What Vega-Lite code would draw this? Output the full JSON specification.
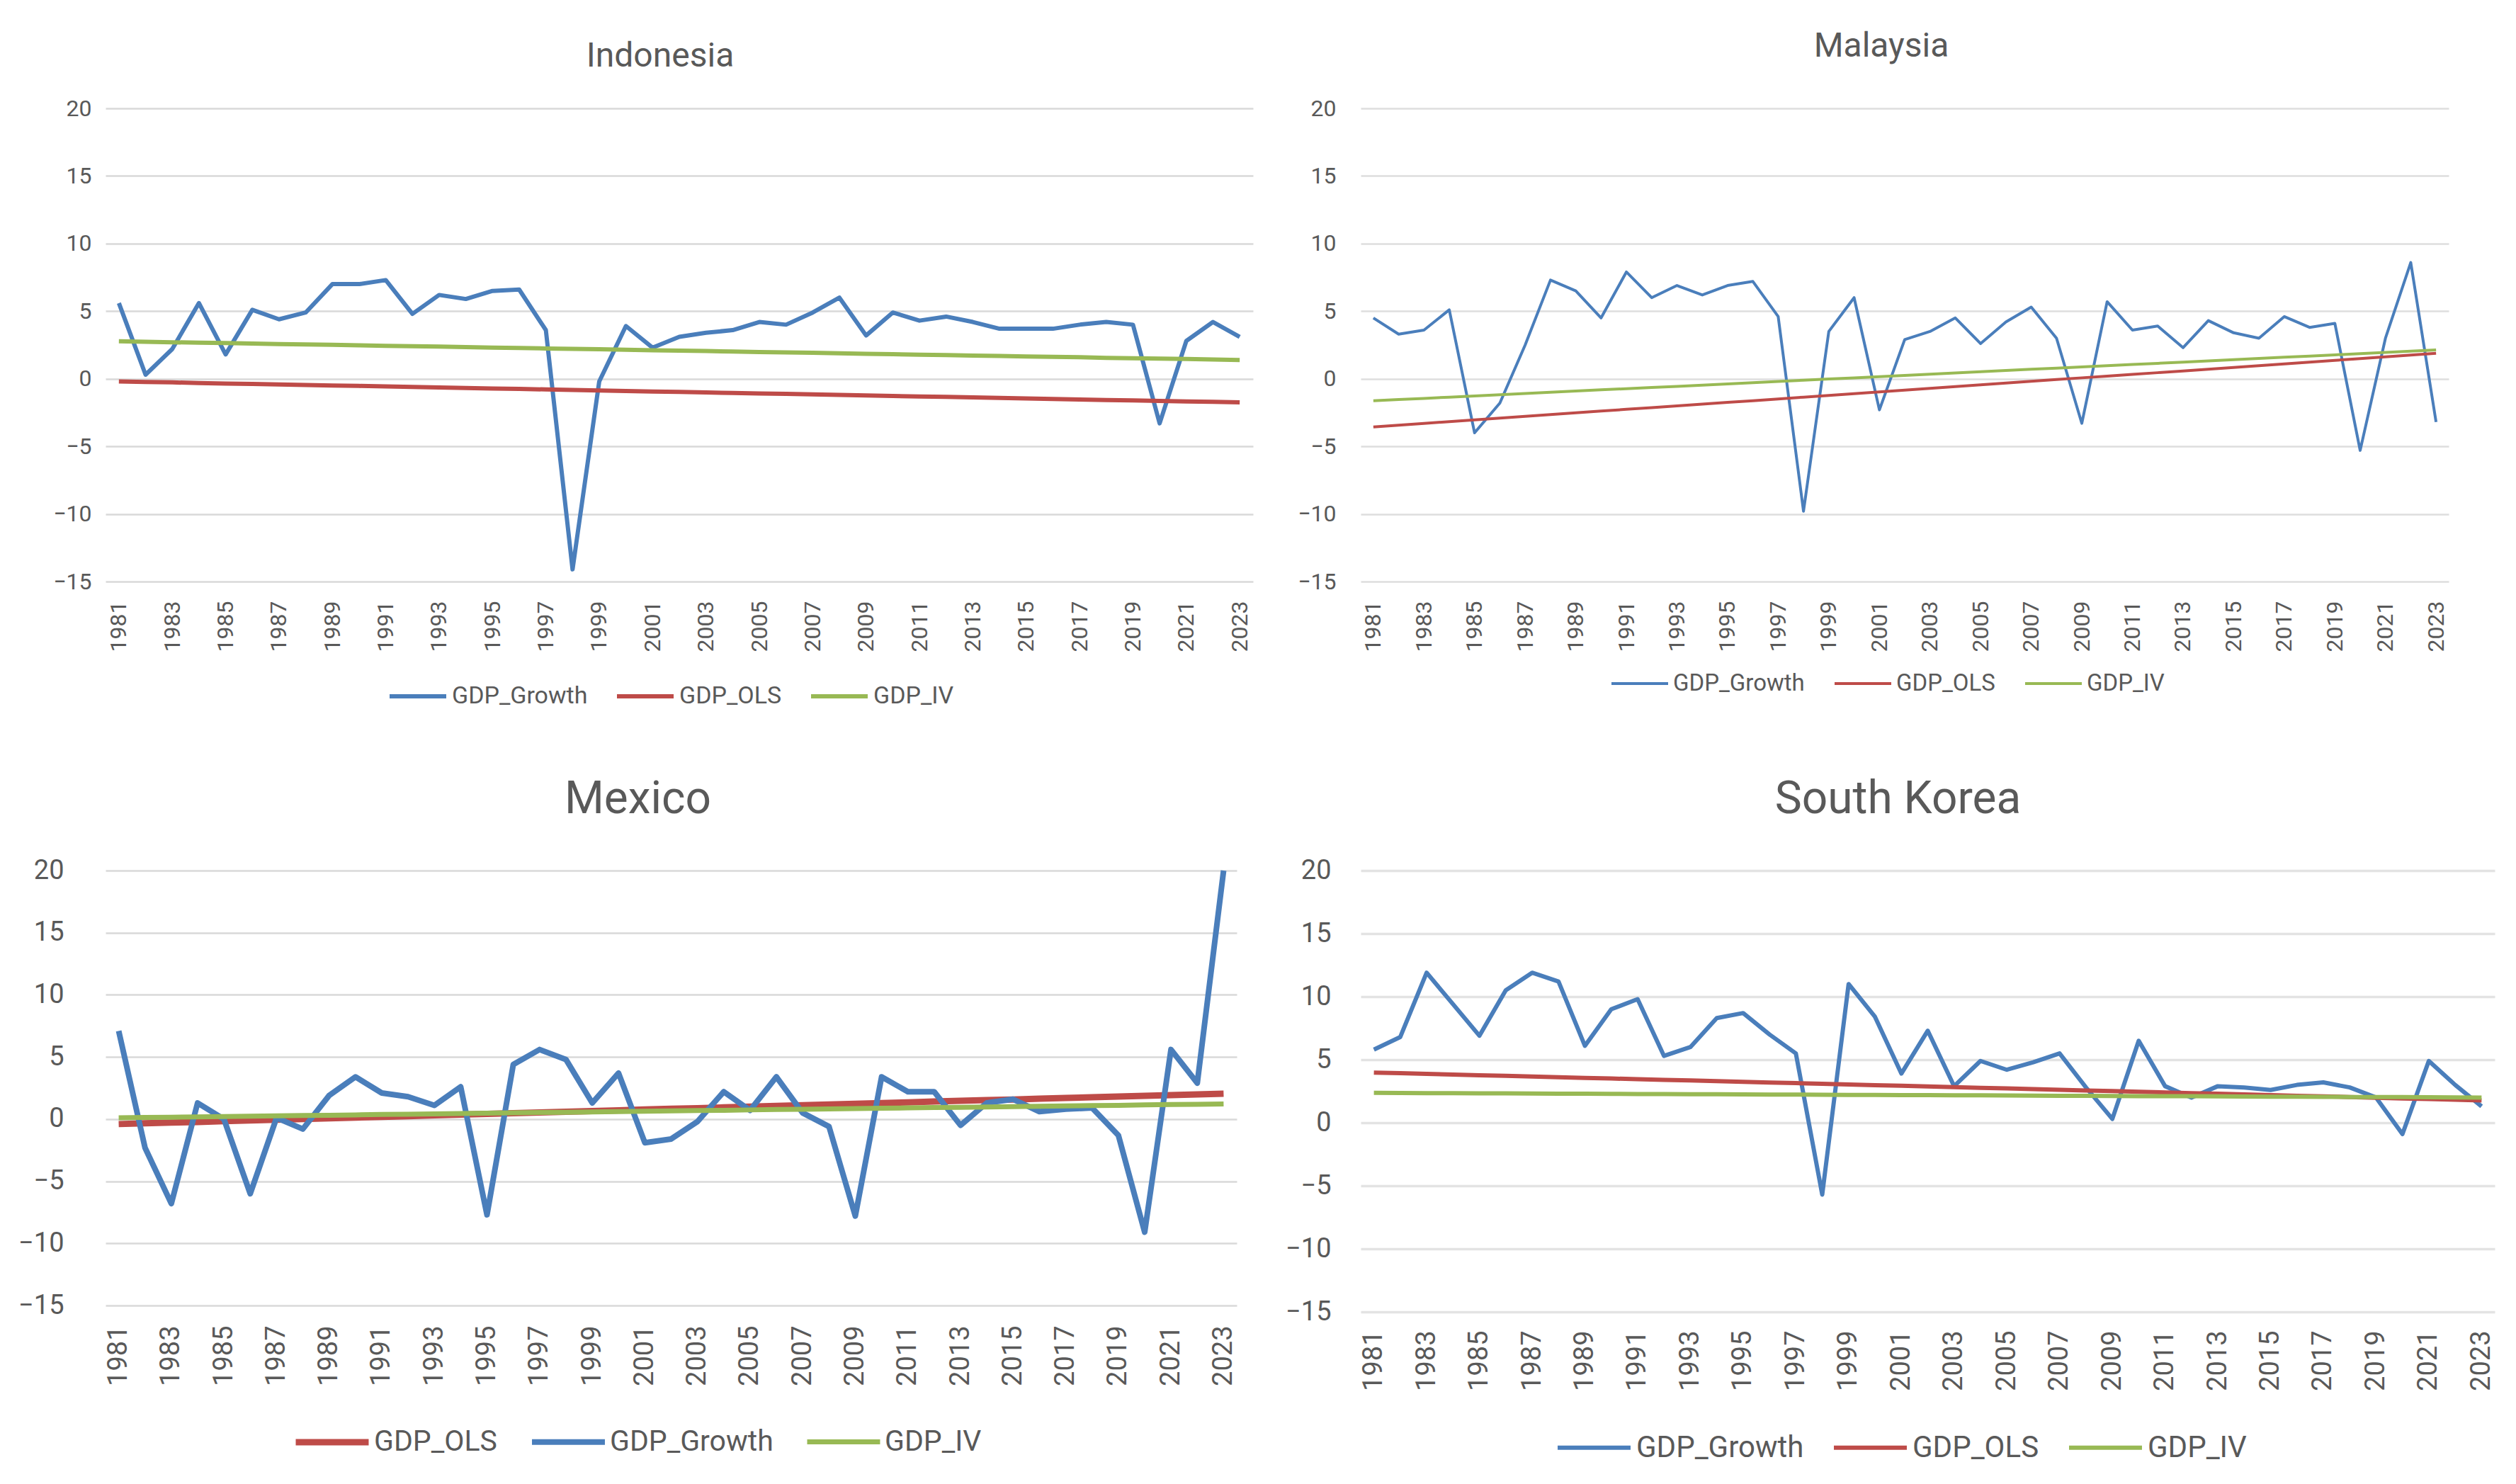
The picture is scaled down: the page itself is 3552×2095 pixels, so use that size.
{
  "$schema": "https://vega.github.io/schema/vega-lite/v6.json",
  "background": "white",
  "autosize": {"type": "pad"},
  "padding": {"left": 25, "top": 42, "right": 0, "bottom": 15},
  "columns": 2,
  "spacing": {"row": 408, "column": 152},
  "bounds": "flush",
  "align": "each",
  "resolve": {"scale": {"x": "independent", "y": "independent", "color": "independent", "strokeWidth": "independent"}, "legend": {"color": "independent"}},
  "datasets": {
    "gdp": [
      {"c":"Indonesia","year":1981,"GDP_Growth":5.6,"GDP_OLS":-0.20,"GDP_IV":2.77},
      {"c":"Indonesia","year":1982,"GDP_Growth":0.3,"GDP_OLS":-0.24,"GDP_IV":2.74},
      {"c":"Indonesia","year":1983,"GDP_Growth":2.2,"GDP_OLS":-0.27,"GDP_IV":2.70},
      {"c":"Indonesia","year":1984,"GDP_Growth":5.6,"GDP_OLS":-0.31,"GDP_IV":2.67},
      {"c":"Indonesia","year":1985,"GDP_Growth":1.8,"GDP_OLS":-0.35,"GDP_IV":2.64},
      {"c":"Indonesia","year":1986,"GDP_Growth":5.1,"GDP_OLS":-0.38,"GDP_IV":2.61},
      {"c":"Indonesia","year":1987,"GDP_Growth":4.4,"GDP_OLS":-0.42,"GDP_IV":2.57},
      {"c":"Indonesia","year":1988,"GDP_Growth":4.9,"GDP_OLS":-0.46,"GDP_IV":2.54},
      {"c":"Indonesia","year":1989,"GDP_Growth":7.0,"GDP_OLS":-0.50,"GDP_IV":2.51},
      {"c":"Indonesia","year":1990,"GDP_Growth":7.0,"GDP_OLS":-0.53,"GDP_IV":2.47},
      {"c":"Indonesia","year":1991,"GDP_Growth":7.3,"GDP_OLS":-0.57,"GDP_IV":2.44},
      {"c":"Indonesia","year":1992,"GDP_Growth":4.8,"GDP_OLS":-0.61,"GDP_IV":2.41},
      {"c":"Indonesia","year":1993,"GDP_Growth":6.2,"GDP_OLS":-0.64,"GDP_IV":2.38},
      {"c":"Indonesia","year":1994,"GDP_Growth":5.9,"GDP_OLS":-0.68,"GDP_IV":2.34},
      {"c":"Indonesia","year":1995,"GDP_Growth":6.5,"GDP_OLS":-0.72,"GDP_IV":2.31},
      {"c":"Indonesia","year":1996,"GDP_Growth":6.6,"GDP_OLS":-0.75,"GDP_IV":2.28},
      {"c":"Indonesia","year":1997,"GDP_Growth":3.6,"GDP_OLS":-0.79,"GDP_IV":2.24},
      {"c":"Indonesia","year":1998,"GDP_Growth":-14.1,"GDP_OLS":-0.83,"GDP_IV":2.21},
      {"c":"Indonesia","year":1999,"GDP_Growth":-0.2,"GDP_OLS":-0.86,"GDP_IV":2.18},
      {"c":"Indonesia","year":2000,"GDP_Growth":3.9,"GDP_OLS":-0.90,"GDP_IV":2.15},
      {"c":"Indonesia","year":2001,"GDP_Growth":2.3,"GDP_OLS":-0.94,"GDP_IV":2.11},
      {"c":"Indonesia","year":2002,"GDP_Growth":3.1,"GDP_OLS":-0.97,"GDP_IV":2.08},
      {"c":"Indonesia","year":2003,"GDP_Growth":3.4,"GDP_OLS":-1.01,"GDP_IV":2.05},
      {"c":"Indonesia","year":2004,"GDP_Growth":3.6,"GDP_OLS":-1.05,"GDP_IV":2.01},
      {"c":"Indonesia","year":2005,"GDP_Growth":4.2,"GDP_OLS":-1.09,"GDP_IV":1.98},
      {"c":"Indonesia","year":2006,"GDP_Growth":4.0,"GDP_OLS":-1.12,"GDP_IV":1.95},
      {"c":"Indonesia","year":2007,"GDP_Growth":4.9,"GDP_OLS":-1.16,"GDP_IV":1.92},
      {"c":"Indonesia","year":2008,"GDP_Growth":6.0,"GDP_OLS":-1.20,"GDP_IV":1.88},
      {"c":"Indonesia","year":2009,"GDP_Growth":3.2,"GDP_OLS":-1.23,"GDP_IV":1.85},
      {"c":"Indonesia","year":2010,"GDP_Growth":4.9,"GDP_OLS":-1.27,"GDP_IV":1.82},
      {"c":"Indonesia","year":2011,"GDP_Growth":4.3,"GDP_OLS":-1.31,"GDP_IV":1.78},
      {"c":"Indonesia","year":2012,"GDP_Growth":4.6,"GDP_OLS":-1.34,"GDP_IV":1.75},
      {"c":"Indonesia","year":2013,"GDP_Growth":4.2,"GDP_OLS":-1.38,"GDP_IV":1.72},
      {"c":"Indonesia","year":2014,"GDP_Growth":3.7,"GDP_OLS":-1.42,"GDP_IV":1.69},
      {"c":"Indonesia","year":2015,"GDP_Growth":3.7,"GDP_OLS":-1.45,"GDP_IV":1.65},
      {"c":"Indonesia","year":2016,"GDP_Growth":3.7,"GDP_OLS":-1.49,"GDP_IV":1.62},
      {"c":"Indonesia","year":2017,"GDP_Growth":4.0,"GDP_OLS":-1.53,"GDP_IV":1.59},
      {"c":"Indonesia","year":2018,"GDP_Growth":4.2,"GDP_OLS":-1.57,"GDP_IV":1.55},
      {"c":"Indonesia","year":2019,"GDP_Growth":4.0,"GDP_OLS":-1.60,"GDP_IV":1.52},
      {"c":"Indonesia","year":2020,"GDP_Growth":-3.3,"GDP_OLS":-1.64,"GDP_IV":1.49},
      {"c":"Indonesia","year":2021,"GDP_Growth":2.8,"GDP_OLS":-1.68,"GDP_IV":1.46},
      {"c":"Indonesia","year":2022,"GDP_Growth":4.2,"GDP_OLS":-1.71,"GDP_IV":1.42},
      {"c":"Indonesia","year":2023,"GDP_Growth":3.1,"GDP_OLS":-1.75,"GDP_IV":1.39},
      {"c":"Malaysia","year":1981,"GDP_Growth":4.5,"GDP_OLS":-3.56,"GDP_IV":-1.63},
      {"c":"Malaysia","year":1982,"GDP_Growth":3.3,"GDP_OLS":-3.43,"GDP_IV":-1.54},
      {"c":"Malaysia","year":1983,"GDP_Growth":3.6,"GDP_OLS":-3.30,"GDP_IV":-1.45},
      {"c":"Malaysia","year":1984,"GDP_Growth":5.1,"GDP_OLS":-3.17,"GDP_IV":-1.36},
      {"c":"Malaysia","year":1985,"GDP_Growth":-4.0,"GDP_OLS":-3.04,"GDP_IV":-1.27},
      {"c":"Malaysia","year":1986,"GDP_Growth":-1.8,"GDP_OLS":-2.91,"GDP_IV":-1.18},
      {"c":"Malaysia","year":1987,"GDP_Growth":2.5,"GDP_OLS":-2.78,"GDP_IV":-1.09},
      {"c":"Malaysia","year":1988,"GDP_Growth":7.3,"GDP_OLS":-2.65,"GDP_IV":-1.00},
      {"c":"Malaysia","year":1989,"GDP_Growth":6.5,"GDP_OLS":-2.52,"GDP_IV":-0.91},
      {"c":"Malaysia","year":1990,"GDP_Growth":4.5,"GDP_OLS":-2.39,"GDP_IV":-0.82},
      {"c":"Malaysia","year":1991,"GDP_Growth":7.9,"GDP_OLS":-2.26,"GDP_IV":-0.73},
      {"c":"Malaysia","year":1992,"GDP_Growth":6.0,"GDP_OLS":-2.14,"GDP_IV":-0.65},
      {"c":"Malaysia","year":1993,"GDP_Growth":6.9,"GDP_OLS":-2.01,"GDP_IV":-0.56},
      {"c":"Malaysia","year":1994,"GDP_Growth":6.2,"GDP_OLS":-1.88,"GDP_IV":-0.47},
      {"c":"Malaysia","year":1995,"GDP_Growth":6.9,"GDP_OLS":-1.75,"GDP_IV":-0.38},
      {"c":"Malaysia","year":1996,"GDP_Growth":7.2,"GDP_OLS":-1.62,"GDP_IV":-0.29},
      {"c":"Malaysia","year":1997,"GDP_Growth":4.6,"GDP_OLS":-1.49,"GDP_IV":-0.20},
      {"c":"Malaysia","year":1998,"GDP_Growth":-9.8,"GDP_OLS":-1.36,"GDP_IV":-0.11},
      {"c":"Malaysia","year":1999,"GDP_Growth":3.5,"GDP_OLS":-1.23,"GDP_IV":-0.02},
      {"c":"Malaysia","year":2000,"GDP_Growth":6.0,"GDP_OLS":-1.10,"GDP_IV":0.07},
      {"c":"Malaysia","year":2001,"GDP_Growth":-2.3,"GDP_OLS":-0.97,"GDP_IV":0.16},
      {"c":"Malaysia","year":2002,"GDP_Growth":2.9,"GDP_OLS":-0.84,"GDP_IV":0.25},
      {"c":"Malaysia","year":2003,"GDP_Growth":3.5,"GDP_OLS":-0.71,"GDP_IV":0.34},
      {"c":"Malaysia","year":2004,"GDP_Growth":4.5,"GDP_OLS":-0.58,"GDP_IV":0.43},
      {"c":"Malaysia","year":2005,"GDP_Growth":2.6,"GDP_OLS":-0.45,"GDP_IV":0.52},
      {"c":"Malaysia","year":2006,"GDP_Growth":4.2,"GDP_OLS":-0.32,"GDP_IV":0.61},
      {"c":"Malaysia","year":2007,"GDP_Growth":5.3,"GDP_OLS":-0.19,"GDP_IV":0.70},
      {"c":"Malaysia","year":2008,"GDP_Growth":3.0,"GDP_OLS":-0.06,"GDP_IV":0.79},
      {"c":"Malaysia","year":2009,"GDP_Growth":-3.3,"GDP_OLS":0.07,"GDP_IV":0.88},
      {"c":"Malaysia","year":2010,"GDP_Growth":5.7,"GDP_OLS":0.20,"GDP_IV":0.97},
      {"c":"Malaysia","year":2011,"GDP_Growth":3.6,"GDP_OLS":0.33,"GDP_IV":1.06},
      {"c":"Malaysia","year":2012,"GDP_Growth":3.9,"GDP_OLS":0.45,"GDP_IV":1.14},
      {"c":"Malaysia","year":2013,"GDP_Growth":2.3,"GDP_OLS":0.58,"GDP_IV":1.23},
      {"c":"Malaysia","year":2014,"GDP_Growth":4.3,"GDP_OLS":0.71,"GDP_IV":1.32},
      {"c":"Malaysia","year":2015,"GDP_Growth":3.4,"GDP_OLS":0.84,"GDP_IV":1.41},
      {"c":"Malaysia","year":2016,"GDP_Growth":3.0,"GDP_OLS":0.97,"GDP_IV":1.50},
      {"c":"Malaysia","year":2017,"GDP_Growth":4.6,"GDP_OLS":1.10,"GDP_IV":1.59},
      {"c":"Malaysia","year":2018,"GDP_Growth":3.8,"GDP_OLS":1.23,"GDP_IV":1.68},
      {"c":"Malaysia","year":2019,"GDP_Growth":4.1,"GDP_OLS":1.36,"GDP_IV":1.77},
      {"c":"Malaysia","year":2020,"GDP_Growth":-5.3,"GDP_OLS":1.49,"GDP_IV":1.86},
      {"c":"Malaysia","year":2021,"GDP_Growth":3.0,"GDP_OLS":1.62,"GDP_IV":1.95},
      {"c":"Malaysia","year":2022,"GDP_Growth":8.6,"GDP_OLS":1.75,"GDP_IV":2.04},
      {"c":"Malaysia","year":2023,"GDP_Growth":-3.2,"GDP_OLS":1.88,"GDP_IV":2.13},
      {"c":"Mexico","year":1981,"GDP_Growth":7.1,"GDP_OLS":-0.40,"GDP_IV":0.10},
      {"c":"Mexico","year":1982,"GDP_Growth":-2.3,"GDP_OLS":-0.34,"GDP_IV":0.13},
      {"c":"Mexico","year":1983,"GDP_Growth":-6.8,"GDP_OLS":-0.28,"GDP_IV":0.15},
      {"c":"Mexico","year":1984,"GDP_Growth":1.3,"GDP_OLS":-0.23,"GDP_IV":0.18},
      {"c":"Mexico","year":1985,"GDP_Growth":0.0,"GDP_OLS":-0.17,"GDP_IV":0.21},
      {"c":"Mexico","year":1986,"GDP_Growth":-6.0,"GDP_OLS":-0.11,"GDP_IV":0.23},
      {"c":"Mexico","year":1987,"GDP_Growth":0.1,"GDP_OLS":-0.05,"GDP_IV":0.26},
      {"c":"Mexico","year":1988,"GDP_Growth":-0.8,"GDP_OLS":0.01,"GDP_IV":0.29},
      {"c":"Mexico","year":1989,"GDP_Growth":1.9,"GDP_OLS":0.07,"GDP_IV":0.31},
      {"c":"Mexico","year":1990,"GDP_Growth":3.4,"GDP_OLS":0.12,"GDP_IV":0.34},
      {"c":"Mexico","year":1991,"GDP_Growth":2.1,"GDP_OLS":0.18,"GDP_IV":0.37},
      {"c":"Mexico","year":1992,"GDP_Growth":1.8,"GDP_OLS":0.24,"GDP_IV":0.39},
      {"c":"Mexico","year":1993,"GDP_Growth":1.1,"GDP_OLS":0.30,"GDP_IV":0.42},
      {"c":"Mexico","year":1994,"GDP_Growth":2.6,"GDP_OLS":0.36,"GDP_IV":0.45},
      {"c":"Mexico","year":1995,"GDP_Growth":-7.7,"GDP_OLS":0.42,"GDP_IV":0.47},
      {"c":"Mexico","year":1996,"GDP_Growth":4.4,"GDP_OLS":0.48,"GDP_IV":0.50},
      {"c":"Mexico","year":1997,"GDP_Growth":5.6,"GDP_OLS":0.53,"GDP_IV":0.53},
      {"c":"Mexico","year":1998,"GDP_Growth":4.8,"GDP_OLS":0.59,"GDP_IV":0.55},
      {"c":"Mexico","year":1999,"GDP_Growth":1.3,"GDP_OLS":0.65,"GDP_IV":0.58},
      {"c":"Mexico","year":2000,"GDP_Growth":3.7,"GDP_OLS":0.71,"GDP_IV":0.61},
      {"c":"Mexico","year":2001,"GDP_Growth":-1.9,"GDP_OLS":0.77,"GDP_IV":0.63},
      {"c":"Mexico","year":2002,"GDP_Growth":-1.6,"GDP_OLS":0.83,"GDP_IV":0.66},
      {"c":"Mexico","year":2003,"GDP_Growth":-0.2,"GDP_OLS":0.88,"GDP_IV":0.69},
      {"c":"Mexico","year":2004,"GDP_Growth":2.2,"GDP_OLS":0.94,"GDP_IV":0.71},
      {"c":"Mexico","year":2005,"GDP_Growth":0.7,"GDP_OLS":1.00,"GDP_IV":0.74},
      {"c":"Mexico","year":2006,"GDP_Growth":3.4,"GDP_OLS":1.06,"GDP_IV":0.77},
      {"c":"Mexico","year":2007,"GDP_Growth":0.5,"GDP_OLS":1.12,"GDP_IV":0.79},
      {"c":"Mexico","year":2008,"GDP_Growth":-0.6,"GDP_OLS":1.18,"GDP_IV":0.82},
      {"c":"Mexico","year":2009,"GDP_Growth":-7.8,"GDP_OLS":1.23,"GDP_IV":0.85},
      {"c":"Mexico","year":2010,"GDP_Growth":3.4,"GDP_OLS":1.29,"GDP_IV":0.87},
      {"c":"Mexico","year":2011,"GDP_Growth":2.2,"GDP_OLS":1.35,"GDP_IV":0.90},
      {"c":"Mexico","year":2012,"GDP_Growth":2.2,"GDP_OLS":1.41,"GDP_IV":0.93},
      {"c":"Mexico","year":2013,"GDP_Growth":-0.5,"GDP_OLS":1.47,"GDP_IV":0.95},
      {"c":"Mexico","year":2014,"GDP_Growth":1.3,"GDP_OLS":1.53,"GDP_IV":0.98},
      {"c":"Mexico","year":2015,"GDP_Growth":1.6,"GDP_OLS":1.58,"GDP_IV":1.01},
      {"c":"Mexico","year":2016,"GDP_Growth":0.6,"GDP_OLS":1.64,"GDP_IV":1.03},
      {"c":"Mexico","year":2017,"GDP_Growth":0.8,"GDP_OLS":1.70,"GDP_IV":1.06},
      {"c":"Mexico","year":2018,"GDP_Growth":0.9,"GDP_OLS":1.76,"GDP_IV":1.09},
      {"c":"Mexico","year":2019,"GDP_Growth":-1.3,"GDP_OLS":1.82,"GDP_IV":1.11},
      {"c":"Mexico","year":2020,"GDP_Growth":-9.1,"GDP_OLS":1.88,"GDP_IV":1.14},
      {"c":"Mexico","year":2021,"GDP_Growth":5.6,"GDP_OLS":1.93,"GDP_IV":1.17},
      {"c":"Mexico","year":2022,"GDP_Growth":2.9,"GDP_OLS":1.99,"GDP_IV":1.19},
      {"c":"Mexico","year":2023,"GDP_Growth":20.0,"GDP_OLS":2.05,"GDP_IV":1.22},
      {"c":"South Korea","year":1981,"GDP_Growth":5.8,"GDP_OLS":3.98,"GDP_IV":2.37},
      {"c":"South Korea","year":1982,"GDP_Growth":6.8,"GDP_OLS":3.93,"GDP_IV":2.36},
      {"c":"South Korea","year":1983,"GDP_Growth":11.9,"GDP_OLS":3.87,"GDP_IV":2.35},
      {"c":"South Korea","year":1984,"GDP_Growth":9.4,"GDP_OLS":3.82,"GDP_IV":2.34},
      {"c":"South Korea","year":1985,"GDP_Growth":6.9,"GDP_OLS":3.77,"GDP_IV":2.33},
      {"c":"South Korea","year":1986,"GDP_Growth":10.5,"GDP_OLS":3.72,"GDP_IV":2.33},
      {"c":"South Korea","year":1987,"GDP_Growth":11.9,"GDP_OLS":3.66,"GDP_IV":2.32},
      {"c":"South Korea","year":1988,"GDP_Growth":11.2,"GDP_OLS":3.61,"GDP_IV":2.31},
      {"c":"South Korea","year":1989,"GDP_Growth":6.1,"GDP_OLS":3.56,"GDP_IV":2.30},
      {"c":"South Korea","year":1990,"GDP_Growth":9.0,"GDP_OLS":3.51,"GDP_IV":2.29},
      {"c":"South Korea","year":1991,"GDP_Growth":9.8,"GDP_OLS":3.45,"GDP_IV":2.28},
      {"c":"South Korea","year":1992,"GDP_Growth":5.3,"GDP_OLS":3.40,"GDP_IV":2.27},
      {"c":"South Korea","year":1993,"GDP_Growth":6.0,"GDP_OLS":3.35,"GDP_IV":2.26},
      {"c":"South Korea","year":1994,"GDP_Growth":8.3,"GDP_OLS":3.30,"GDP_IV":2.26},
      {"c":"South Korea","year":1995,"GDP_Growth":8.7,"GDP_OLS":3.24,"GDP_IV":2.25},
      {"c":"South Korea","year":1996,"GDP_Growth":7.0,"GDP_OLS":3.19,"GDP_IV":2.24},
      {"c":"South Korea","year":1997,"GDP_Growth":5.5,"GDP_OLS":3.14,"GDP_IV":2.23},
      {"c":"South Korea","year":1998,"GDP_Growth":-5.7,"GDP_OLS":3.09,"GDP_IV":2.22},
      {"c":"South Korea","year":1999,"GDP_Growth":11.0,"GDP_OLS":3.03,"GDP_IV":2.21},
      {"c":"South Korea","year":2000,"GDP_Growth":8.4,"GDP_OLS":2.98,"GDP_IV":2.20},
      {"c":"South Korea","year":2001,"GDP_Growth":3.9,"GDP_OLS":2.93,"GDP_IV":2.19},
      {"c":"South Korea","year":2002,"GDP_Growth":7.3,"GDP_OLS":2.88,"GDP_IV":2.19},
      {"c":"South Korea","year":2003,"GDP_Growth":2.9,"GDP_OLS":2.82,"GDP_IV":2.18},
      {"c":"South Korea","year":2004,"GDP_Growth":4.9,"GDP_OLS":2.77,"GDP_IV":2.17},
      {"c":"South Korea","year":2005,"GDP_Growth":4.2,"GDP_OLS":2.72,"GDP_IV":2.16},
      {"c":"South Korea","year":2006,"GDP_Growth":4.8,"GDP_OLS":2.67,"GDP_IV":2.15},
      {"c":"South Korea","year":2007,"GDP_Growth":5.5,"GDP_OLS":2.61,"GDP_IV":2.14},
      {"c":"South Korea","year":2008,"GDP_Growth":2.8,"GDP_OLS":2.56,"GDP_IV":2.13},
      {"c":"South Korea","year":2009,"GDP_Growth":0.3,"GDP_OLS":2.51,"GDP_IV":2.12},
      {"c":"South Korea","year":2010,"GDP_Growth":6.5,"GDP_OLS":2.46,"GDP_IV":2.11},
      {"c":"South Korea","year":2011,"GDP_Growth":2.9,"GDP_OLS":2.40,"GDP_IV":2.11},
      {"c":"South Korea","year":2012,"GDP_Growth":2.0,"GDP_OLS":2.35,"GDP_IV":2.10},
      {"c":"South Korea","year":2013,"GDP_Growth":2.9,"GDP_OLS":2.30,"GDP_IV":2.09},
      {"c":"South Korea","year":2014,"GDP_Growth":2.8,"GDP_OLS":2.25,"GDP_IV":2.08},
      {"c":"South Korea","year":2015,"GDP_Growth":2.6,"GDP_OLS":2.19,"GDP_IV":2.07},
      {"c":"South Korea","year":2016,"GDP_Growth":3.0,"GDP_OLS":2.14,"GDP_IV":2.06},
      {"c":"South Korea","year":2017,"GDP_Growth":3.2,"GDP_OLS":2.09,"GDP_IV":2.05},
      {"c":"South Korea","year":2018,"GDP_Growth":2.8,"GDP_OLS":2.04,"GDP_IV":2.04},
      {"c":"South Korea","year":2019,"GDP_Growth":2.0,"GDP_OLS":1.98,"GDP_IV":2.04},
      {"c":"South Korea","year":2020,"GDP_Growth":-0.9,"GDP_OLS":1.93,"GDP_IV":2.03},
      {"c":"South Korea","year":2021,"GDP_Growth":4.9,"GDP_OLS":1.88,"GDP_IV":2.02},
      {"c":"South Korea","year":2022,"GDP_Growth":3.0,"GDP_OLS":1.83,"GDP_IV":2.01},
      {"c":"South Korea","year":2023,"GDP_Growth":1.3,"GDP_OLS":1.77,"GDP_IV":2.00}
    ]
  },
  "concat": [
    {
      "title": {"text": "Indonesia", "fontSize": 48, "offset": 33, "dx": -27},
      "width": 1620, "height": 668,
      "data": {"name": "gdp"},
      "transform": [{"filter": {"field": "c", "equal": "Indonesia"}}, {"fold": ["GDP_Growth", "GDP_OLS", "GDP_IV"], "as": ["series", "value"]}],
      "mark": {"type": "line", "strokeJoin": "round"},
      "encoding": {
        "x": {"field": "year", "type": "ordinal", "scale": {"type": "point", "padding": 0.5},
              "axis": {"title": null, "values": [1981,1983,1985,1987,1989,1991,1993,1995,1997,1999,2001,2003,2005,2007,2009,2011,2013,2015,2017,2019,2021,2023], "labelAngle": -90, "labelFontSize": 32, "labelPadding": 27, "grid": false}},
        "y": {"field": "value", "type": "quantitative", "scale": {"domain": [-15, 20], "nice": false, "zero": false},
              "axis": {"title": null, "values": [-15,-10,-5,0,5,10,15,20], "labelFontSize": 32, "labelPadding": 20, "gridColor": "#d9d9d9", "gridWidth": 2.5}},
        "color": {"field": "series", "type": "nominal", "sort": null,
                  "scale": {"domain": ["GDP_Growth", "GDP_OLS", "GDP_IV"], "range": ["#4a7ebb", "#be4b48", "#98b954"]},
                  "legend": {"legendX": 398, "legendY": 787, "symbolSize": 6400, "symbolStrokeWidth": 9, "labelFontSize": 34, "columnPadding": 29}},
        "strokeWidth": {"field": "series", "type": "ordinal", "scale": {"domain": ["GDP_Growth", "GDP_OLS", "GDP_IV"], "range": [6, 6, 6]}, "legend": null}
      }
    },
    {
      "title": {"text": "Malaysia", "fontSize": 48, "offset": 47, "dx": -33},
      "width": 1536, "height": 668,
      "data": {"name": "gdp"},
      "transform": [{"filter": {"field": "c", "equal": "Malaysia"}}, {"fold": ["GDP_Growth", "GDP_OLS", "GDP_IV"], "as": ["series", "value"]}],
      "mark": {"type": "line", "strokeJoin": "round"},
      "encoding": {
        "x": {"field": "year", "type": "ordinal", "scale": {"type": "point", "padding": 0.5},
              "axis": {"title": null, "values": [1981,1983,1985,1987,1989,1991,1993,1995,1997,1999,2001,2003,2005,2007,2009,2011,2013,2015,2017,2019,2021,2023], "labelAngle": -90, "labelFontSize": 32, "labelPadding": 27, "grid": false}},
        "y": {"field": "value", "type": "quantitative", "scale": {"domain": [-15, 20], "nice": false, "zero": false},
              "axis": {"title": null, "values": [-15,-10,-5,0,5,10,15,20], "labelFontSize": 32, "labelPadding": 35, "gridColor": "#dedede", "gridWidth": 2.5}},
        "color": {"field": "series", "type": "nominal", "sort": null,
                  "scale": {"domain": ["GDP_Growth", "GDP_OLS", "GDP_IV"], "range": ["#4a7ebb", "#be4b48", "#98b954"]},
                  "legend": {"legendX": 352, "legendY": 770, "symbolSize": 6400, "symbolStrokeWidth": 6, "labelFontSize": 33, "columnPadding": 34}},
        "strokeWidth": {"field": "series", "type": "ordinal", "scale": {"domain": ["GDP_Growth", "GDP_OLS", "GDP_IV"], "range": [4, 4, 4.5]}, "legend": null}
      }
    },
    {
      "title": {"text": "Mexico", "fontSize": 64, "offset": 49, "dx": -47},
      "width": 1597, "height": 614,
      "data": {"name": "gdp"},
      "transform": [{"filter": {"field": "c", "equal": "Mexico"}}, {"fold": ["GDP_OLS", "GDP_Growth", "GDP_IV"], "as": ["series", "value"]}],
      "mark": {"type": "line", "strokeJoin": "round"},
      "encoding": {
        "x": {"field": "year", "type": "ordinal", "scale": {"type": "point", "padding": 0.5},
              "axis": {"title": null, "values": [1981,1983,1985,1987,1989,1991,1993,1995,1997,1999,2001,2003,2005,2007,2009,2011,2013,2015,2017,2019,2021,2023], "labelAngle": -90, "labelFontSize": 38, "labelPadding": 28, "grid": false}},
        "y": {"field": "value", "type": "quantitative", "scale": {"domain": [-15, 20], "nice": false, "zero": false},
              "axis": {"title": null, "values": [-15,-10,-5,0,5,10,15,20], "labelFontSize": 38, "labelPadding": 59, "gridColor": "#d9d9d9", "gridWidth": 2.5}},
        "color": {"field": "series", "type": "nominal", "sort": null,
                  "scale": {"domain": ["GDP_OLS", "GDP_Growth", "GDP_IV"], "range": ["#be4b48", "#4a7ebb", "#98b954"]},
                  "legend": {"legendX": 264, "legendY": 751, "symbolSize": 10600, "symbolStrokeWidth": 7, "labelFontSize": 41, "labelOffset": 3, "columnPadding": 33}},
        "strokeWidth": {"field": "series", "type": "ordinal", "scale": {"domain": ["GDP_OLS", "GDP_Growth", "GDP_IV"], "range": [9, 7, 4]}, "legend": null}
      }
    },
    {
      "title": {"text": "South Korea", "fontSize": 64, "offset": 49, "dx": -42},
      "width": 1601, "height": 623,
      "data": {"name": "gdp"},
      "transform": [{"filter": {"field": "c", "equal": "South Korea"}}, {"fold": ["GDP_Growth", "GDP_OLS", "GDP_IV"], "as": ["series", "value"]}],
      "mark": {"type": "line", "strokeJoin": "round"},
      "encoding": {
        "x": {"field": "year", "type": "ordinal", "scale": {"type": "point", "padding": 0.5},
              "axis": {"title": null, "values": [1981,1983,1985,1987,1989,1991,1993,1995,1997,1999,2001,2003,2005,2007,2009,2011,2013,2015,2017,2019,2021,2023], "labelAngle": -90, "labelFontSize": 38, "labelPadding": 26, "grid": false}},
        "y": {"field": "value", "type": "quantitative", "scale": {"domain": [-15, 20], "nice": false, "zero": false},
              "axis": {"title": null, "values": [-15,-10,-5,0,5,10,15,20], "labelFontSize": 38, "labelPadding": 42, "gridColor": "#e3e3e3", "gridWidth": 3.5}},
        "color": {"field": "series", "type": "nominal", "sort": null,
                  "scale": {"domain": ["GDP_Growth", "GDP_OLS", "GDP_IV"], "range": ["#4a7ebb", "#be4b48", "#98b954"]},
                  "legend": {"legendX": 275, "legendY": 760, "symbolSize": 10600, "symbolStrokeWidth": 9, "labelFontSize": 42, "columnPadding": 30}},
        "strokeWidth": {"field": "series", "type": "ordinal", "scale": {"domain": ["GDP_Growth", "GDP_OLS", "GDP_IV"], "range": [6, 6, 7]}, "legend": null}
      }
    }
  ],
  "config": {
    "view": {"stroke": null},
    "font": "Roboto",
    "title": {"font": "Roboto", "fontWeight": "normal", "color": "#595959", "anchor": "middle", "baseline": "alphabetic"},
    "axis": {"labelFont": "Roboto", "labelColor": "#595959", "ticks": false, "domain": false},
    "legend": {"orient": "none", "direction": "horizontal", "title": null, "symbolType": "stroke", "labelFont": "Roboto", "labelColor": "#595959", "labelOffset": 5, "padding": 0, "labelLimit": 0}
  }
}
